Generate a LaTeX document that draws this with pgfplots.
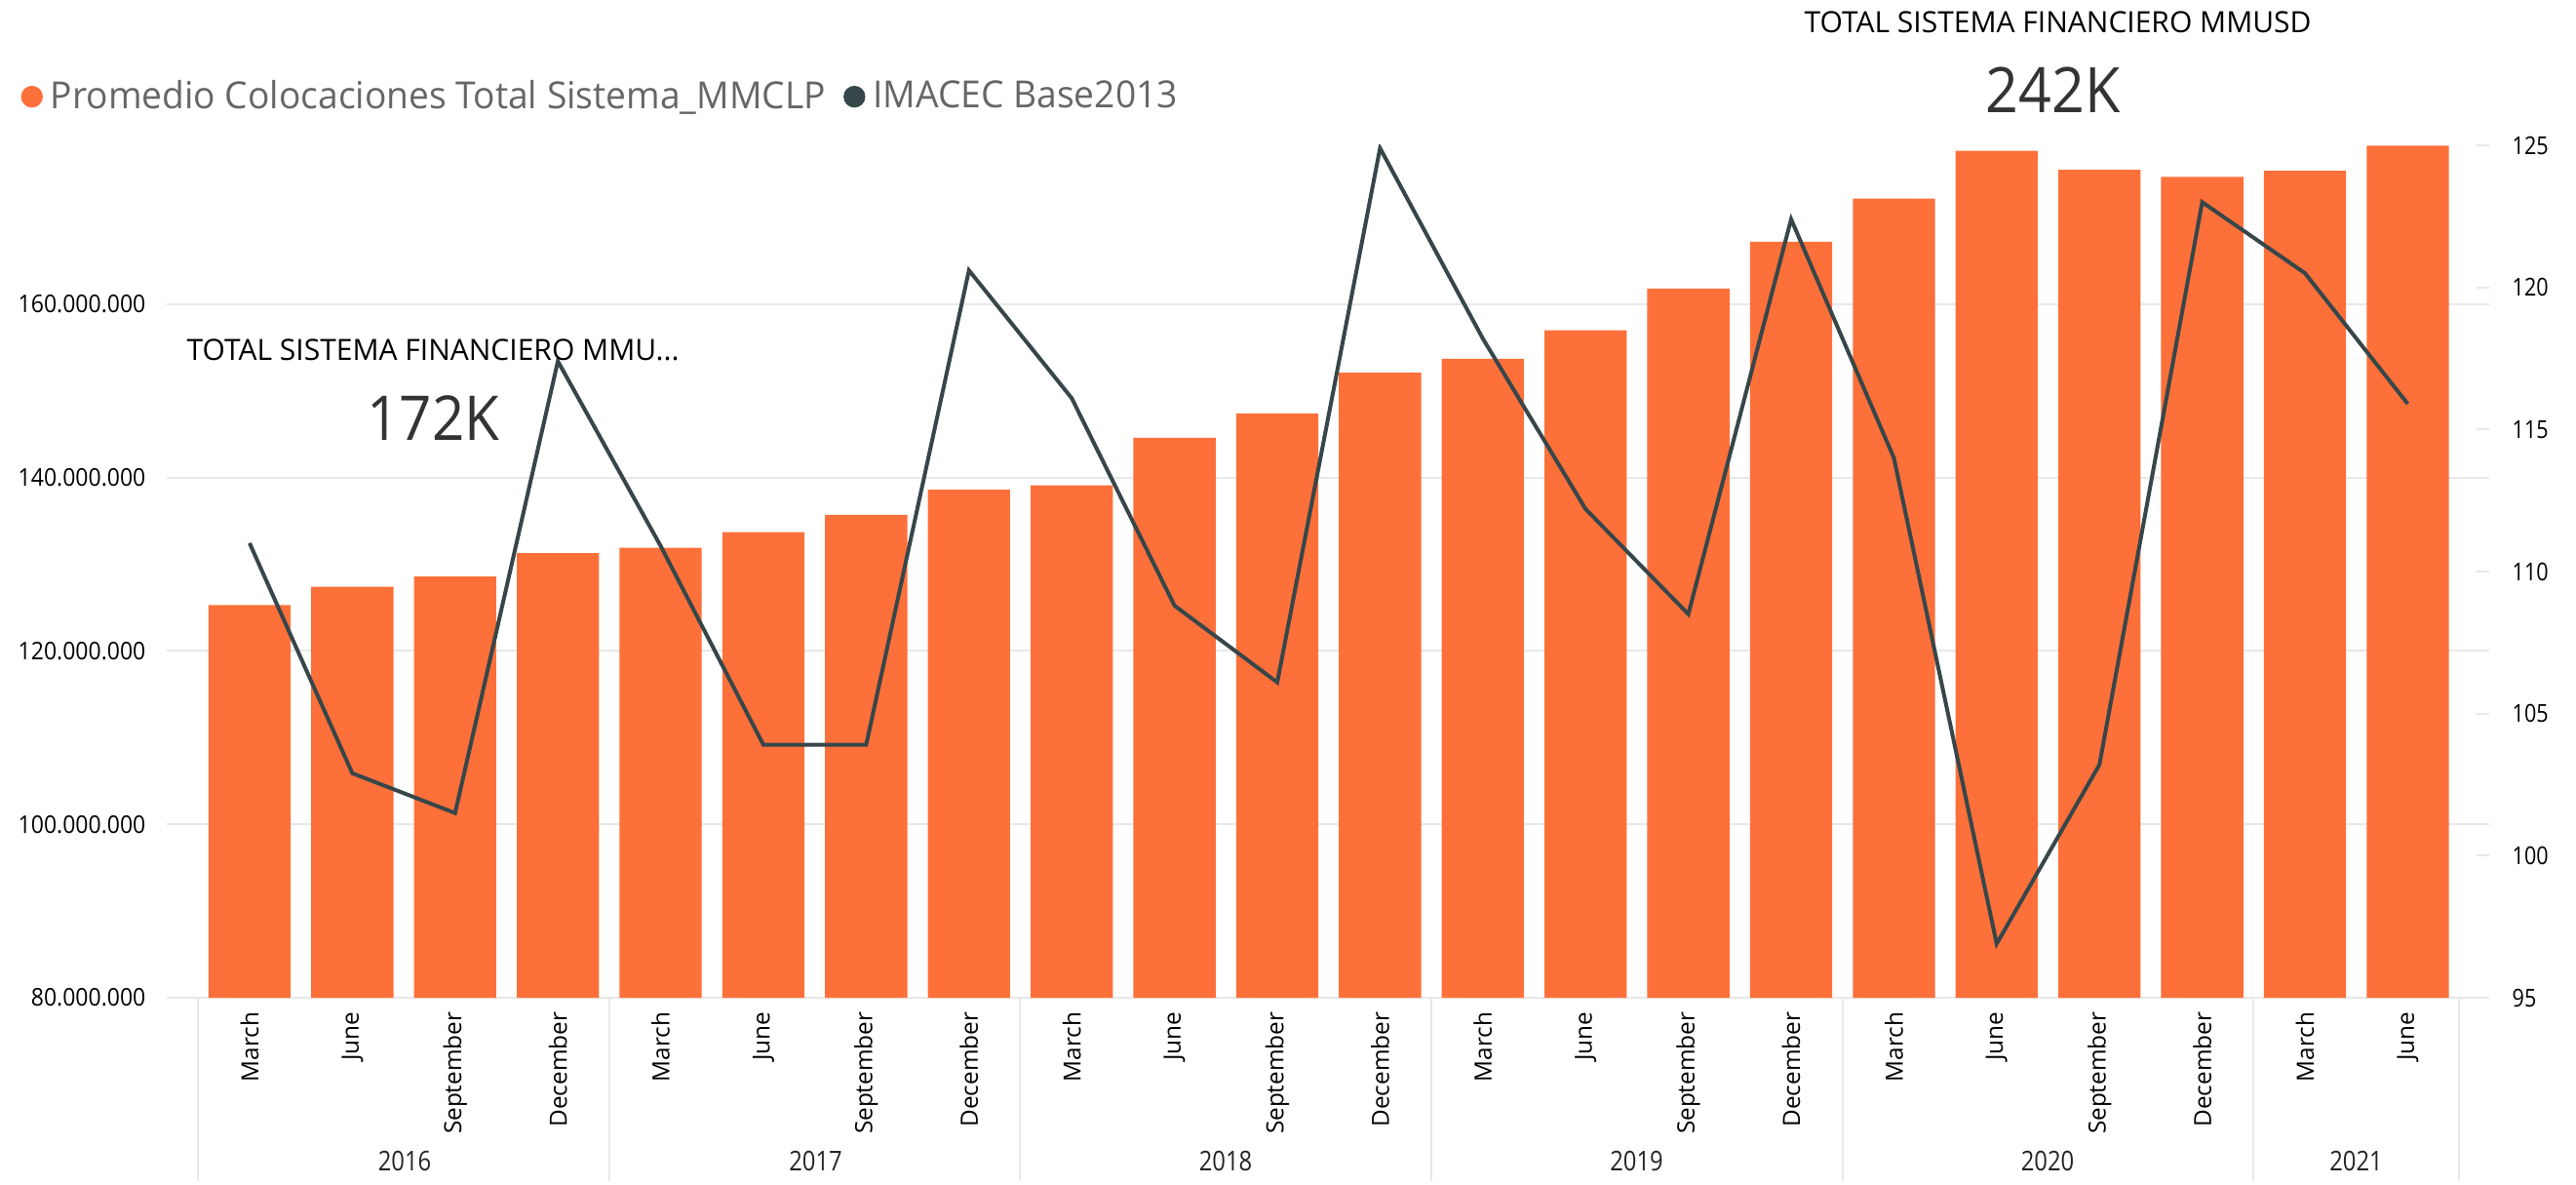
\documentclass[border=0pt]{standalone}
\usepackage{pgfplots}
\pgfplotsset{compat=1.18}
\usepackage{fontspec}
\setmainfont{Open Sans}
\newfontfamily\cond[FakeStretch=0.85]{Open Sans}
\newfontfamily\semi[FakeStretch=0.92]{Open Sans}
\newfontfamily\leg[FakeStretch=0.97]{Open Sans}
\definecolor{barorange}{RGB}{254,112,58}
\definecolor{linedark}{RGB}{55,70,73}
\definecolor{gridgray}{RGB}{232,232,232}
\definecolor{legendgray}{RGB}{102,102,102}
\definecolor{kpidark}{RGB}{51,51,51}
\definecolor{txt}{RGB}{37,36,35}
\begin{document}
\begin{tikzpicture}
\useasboundingbox (0,0) rectangle (792.6pt,364.2pt);
\begin{axis}[
  at={(51.3pt,57.3pt)}, anchor=south west,
  scale only axis, width=714.6pt, height=262.2pt,
  xmin=-0.806, xmax=21.793,
  ymin=80000000, ymax=178340000,
  scaled y ticks=false,
  axis x line*=bottom, axis y line*=left,
  y axis line style={draw=none},
  x axis line style={draw=gridgray, line width=0.6pt, -},
  ytick={80000000,100000000,120000000,140000000,160000000},
  yticklabels={80.000.000,100.000.000,120.000.000,140.000.000,160.000.000},
  yticklabel style={font=\semi\fontsize{7.5pt}{9pt}\selectfont, text=black, anchor=east, inner sep=0pt, xshift=-6.3pt},
  ymajorgrids, grid style={draw=gridgray, line width=0.6pt},
  major y tick style={draw=none},
  xtick={0,...,21},
  xticklabels={March,June,September,December,March,June,September,December,March,June,September,December,March,June,September,December,March,June,September,December,March,June},
  xticklabel style={font=\fontsize{7.3pt}{9pt}\selectfont, text=black, rotate=90, anchor=east, inner xsep=4.2pt, inner ysep=0pt},
  major x tick style={draw=none},
  extra x ticks={-0.5,3.5,7.5,11.5,15.5,19.5,21.5},
  extra x tick labels={},
  extra x tick style={major tick length=56.4pt, tick align=outside, major x tick style={draw=gridgray, line width=0.6pt}, xmajorgrids=false},
  legend columns=-1,
  legend style={draw=none, fill=none, at={(axis description cs:-0.063,1.057)}, anchor=west, inner sep=0pt,
    font=\leg\fontsize{11.5pt}{13pt}\selectfont, text=legendgray, nodes={inner sep=0pt},
    /tikz/every odd column/.append style={column sep=2.4pt},
    /tikz/every even column/.append style={column sep=5.5pt}},
  legend image code/.code={\fill[#1] (3.15pt,0pt) circle (3.15pt);},
]
\addplot[ybar, bar width=0.8, fill=barorange, draw=none, forget plot] coordinates {
(0,125300000) (1,127400000) (2,128600000) (3,131300000)
(4,131900000) (5,133700000) (6,135700000) (7,138600000)
(8,139100000) (9,144600000) (10,147400000) (11,152100000)
(12,153700000) (13,157000000) (14,161800000) (15,167200000)
(16,172200000) (17,177700000) (18,175500000) (19,174700000)
(20,175400000) (21,178300000)};
\addlegendimage{barorange}
\addlegendentry{Promedio Colocaciones Total Sistema\_MMCLP}
\addlegendimage{linedark}
\addlegendentry{IMACEC Base2013}
\end{axis}
\begin{axis}[
  at={(51.3pt,57.3pt)}, anchor=south west,
  scale only axis, width=714.6pt, height=262.2pt,
  xmin=-0.806, xmax=21.793, ymin=95, ymax=125,
  axis x line=none, axis y line*=right,
  y axis line style={draw=none},
  ytick={95,100,105,110,115,120,125},
  yticklabels={95,100,105,110,115,120,125},
  tick align=inside, major tick length=3.9pt,
  major y tick style={draw=gridgray, line width=0.6pt},
  yticklabel style={font=\cond\fontsize{7.6pt}{9pt}\selectfont, text=black, anchor=west, inner sep=0pt, xshift=6.9pt},
]
\addplot[linedark, line width=1.2pt] coordinates {
(0,111.0) (1,102.9) (2,101.5) (3,117.4)
(4,110.9) (5,103.9) (6,103.9) (7,120.6)
(8,116.1) (9,108.8) (10,106.1) (11,124.9)
(12,118.2) (13,112.2) (14,108.5) (15,122.4)
(16,114.0) (17,96.9) (18,103.2) (19,123.0)
(20,120.5) (21,115.9)};
\end{axis}
% year labels
\begin{scope}[every node/.style={font=\cond\fontsize{8.4pt}{10pt}\selectfont, text=txt, anchor=base, inner sep=0pt}]
\node at (124.5pt,4.2pt) {2016};
\node at (250.95pt,4.2pt) {2017};
\node at (377.1pt,4.2pt) {2018};
\node at (503.55pt,4.2pt) {2019};
\node at (630pt,4.2pt) {2020};
\node at (724.95pt,4.2pt) {2021};
\end{scope}
% KPI cards
\node[anchor=base west, inner sep=0pt, font=\fontsize{9pt}{10pt}\selectfont, text=black] at (555pt,354pt) {TOTAL SISTEMA FINANCIERO MMUSD};
\node[anchor=base west, inner sep=0pt, font=\semi\fontsize{19.3pt}{22pt}\selectfont, text=kpidark] at (610.8pt,329.4pt) {242K};
\node[anchor=base west, inner sep=0pt, font=\fontsize{9pt}{10pt}\selectfont, text=black] at (57.3pt,253.2pt) {TOTAL SISTEMA FINANCIERO MMU...};
\node[anchor=base west, inner sep=0pt, font=\semi\fontsize{19pt}{22pt}\selectfont, text=kpidark] at (112.8pt,228.6pt) {172K};
\end{tikzpicture}
\end{document}
